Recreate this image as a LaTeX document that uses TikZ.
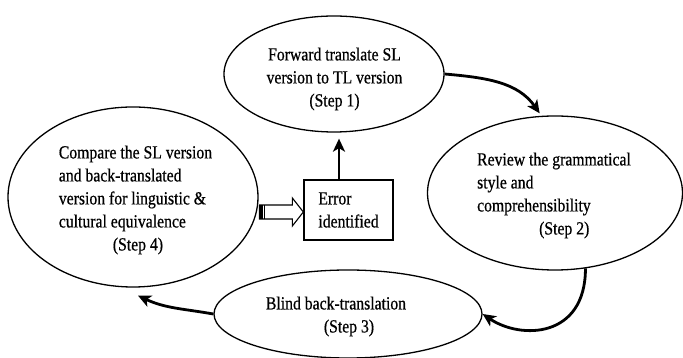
\documentclass[tikz,border=0pt]{standalone}
\usepackage{fontspec}
\setmainfont{Liberation Serif}[FakeStretch=0.85,FakeBold=0.6]
\usetikzlibrary{arrows.meta,calc,shapes.geometric}
\begin{document}
\begin{tikzpicture}[x=1pt,y=1pt,
  ell/.style={draw, ellipse, line width=1.3pt, inner sep=0pt},
  txt/.style={align=left, inner sep=0pt, font=\fontsize{18.5}{23}\selectfont},
  arr/.style={line width=2.8pt, -{Stealth[length=13pt,width=12pt,inset=3.5pt]}},
]
\fill[white] (0,0) rectangle (683,358);
\useasboundingbox (0,0) rectangle (683,358);
% ellipses
\node[ell, minimum width=220pt, minimum height=116pt] (s1) at (334,284) {};
\node[ell, minimum width=255pt, minimum height=154pt] (s2) at (555,165) {};
\node[ell, minimum width=268pt, minimum height=88pt] (s3) at (348,44) {};
\node[ell, minimum width=250pt, minimum height=180pt] (s4) at (133,161) {};
% texts
\node[txt, align=center] (t1) at (334.5,279) {Forward translate SL\\version to TL version\\(Step 1)};
\node[txt] (t2) at (554,162.5) {Review the grammatical\\style and\\comprehensibility\\\hspace*{62pt}(Step 2)};
\node[txt] (t3) at (336,41.5) {Blind back-translation\\\hspace*{58pt}(Step 3)};
\node[txt] (t4) at (135.5,158) {Compare the SL version\\and back-translated\\version for linguistic \&\\cultural equivalence\\\hspace*{54pt}(Step 4)};
% error box
\node[txt, draw, line width=1.3pt, minimum width=89pt, minimum height=60pt] (box) at (348.5,148) {Error\\identified};
% cycle arrows
\draw[arr, shorten >=3pt] (s1.east) to[out=-5, in=125] (s2.100);
\draw[arr] (s2.-68) .. controls +(-90:70) and +(-34:46) .. (s3.east);
\coordinate (tip3) at ($(s4.south)+(5,-8)$);
\draw[arr] (s3.west) to[out=170, in=-25] (tip3);
% error -> step 1
\coordinate (va) at ($(box.north)+(-9.5,0)$);
\draw[arr, line width=2.4pt, shorten >=6pt] (va) -- (va |- s1.south);
% hollow arrow step 4 -> error
\coordinate (ht) at ($(box.west)+(0,-2)$);
\draw[line width=1.1pt, fill=white] (ht) -- ++(-11,14) -- ++(0,-7) -- ++(-33,0) -- ++(0,-14) -- ++(33,0) -- ++(0,-7) -- cycle;
\fill ($(ht)+(-44,-7)$) rectangle ++(3.5,14);
\draw[line width=0.8pt] ($(ht)+(-38.5,-7)$) -- ++(0,14);
\end{tikzpicture}
\end{document}
